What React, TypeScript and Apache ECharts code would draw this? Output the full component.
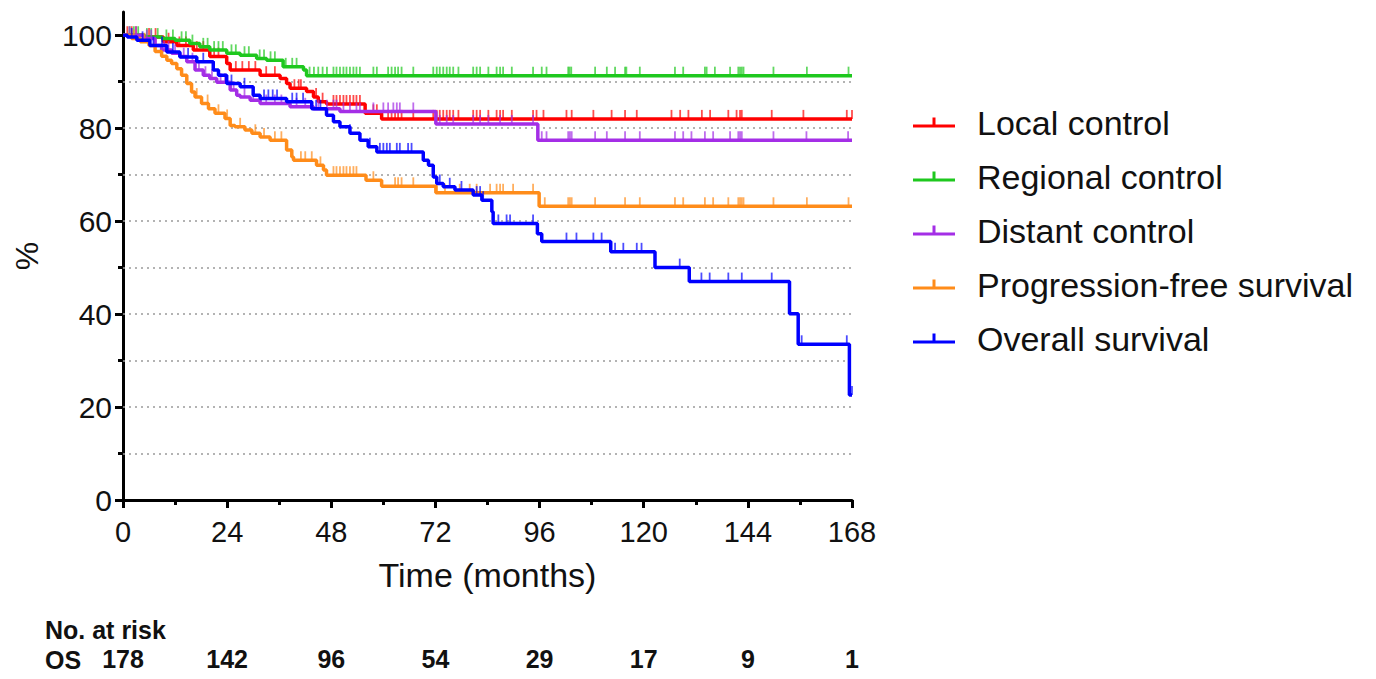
import React, { useEffect, useRef } from 'react';
import * as echarts from 'echarts';

// ---------- data ----------
const seriesNames = ['Local control', 'Regional control', 'Distant control', 'Progression-free survival', 'Overall survival'];
const seriesColors = ['#ff0000', '#1ec81e', '#a42ee6', '#ff8c1a', '#0000ff'];

// Kaplan-Meier steps: [time (months), survival %] – value holds from that time onward
const localControl: number[][] = [[0, 100], [4.7, 99.6], [9.3, 98.6], [12.4, 97.8], [16.2, 96.8], [20, 95.4], [23.9, 93.9], [24.7, 92.5], [31.6, 91.4], [36.2, 90.7], [37.7, 89.6], [38.5, 88.6], [42.3, 87.9], [43.9, 86.7], [45, 85.7], [46.9, 85.2], [55.8, 83.2], [59.6, 82.0], [168, 82.0]];
const regionalControl: number[][] = [[0, 100], [5, 99.6], [9, 99.3], [12, 98.9], [15.4, 98.2], [17.7, 97.5], [20, 96.8], [23.9, 96.1], [27, 95.7], [30.8, 95.0], [33.1, 94.6], [36.9, 93.2], [41.6, 92.5], [42.3, 91.3], [168, 91.3]];
const distantControl: number[][] = [[0, 100], [4.7, 99.3], [7.4, 97.8], [8.9, 96.8], [11.2, 96.1], [13.1, 95.4], [14.7, 94.3], [16.6, 92.5], [18.5, 91.4], [20, 90.7], [21.6, 89.9], [24.7, 88.2], [26.2, 87.1], [27, 86.7], [29.3, 86.0], [31.6, 85.3], [38.5, 84.6], [43.9, 84.2], [50, 83.6], [72.1, 80.9], [95.6, 77.4], [168, 77.4]];
const progressionFree: number[][] = [[0, 100], [2, 99.3], [4, 98.6], [6, 97.8], [7.4, 96.5], [8.9, 95.5], [10.1, 94.6], [11.2, 93.9], [12.4, 92.8], [13.5, 91.4], [14.7, 89.6], [15.8, 87.8], [16.6, 86.7], [18.1, 85.3], [19.7, 84.2], [21.2, 83.2], [23.5, 82.1], [24.7, 80.6], [25.8, 80.3], [28.1, 79.6], [29.7, 78.9], [31.6, 78.1], [33.9, 77.4], [37.7, 75.3], [38.9, 73.8], [39.3, 73.1], [44.6, 72.0], [46.2, 71.0], [46.9, 69.9], [56, 68.8], [59.6, 67.5], [72.1, 66.1], [95.9, 63.2], [168, 63.2]];
const overallSurvival: number[][] = [[0, 100], [1, 99.6], [3.2, 98.9], [6.2, 97.8], [10.1, 96.4], [13.1, 95.3], [17, 94.3], [20.8, 92.5], [22, 91.4], [23.9, 89.6], [27, 88.9], [30, 87.1], [31.6, 86.4], [37.7, 85.7], [43.5, 84.2], [46.9, 82.8], [48.5, 81.4], [50, 80.3], [52.3, 78.9], [54.6, 77.4], [56.5, 76.0], [58.5, 74.9], [69.2, 73.1], [70.4, 72.0], [71.5, 69.5], [72.3, 68.1], [73.8, 67.4], [76.5, 66.7], [80.7, 65.6], [82.7, 64.5], [85, 62.0], [85.3, 59.5], [95.5, 57.3], [96.5, 55.6], [112.4, 53.4], [122.6, 50.0], [130.5, 47.0], [153.6, 40.1], [155.6, 33.5], [167.4, 22.6], [168, 22.6]];

// censoring times (months)
const localCensor = [1, 2, 3, 6, 7.5, 10.5, 13, 14.5, 17, 18.5, 21, 22, 26, 27.5, 29, 30.5, 33, 35, 39.5, 40.5, 41, 44.5, 46, 48.5, 49.2, 50, 50.8, 51.5, 52.3, 53.1, 53.8, 54.6, 57.7, 58.5, 61.1, 61.9, 62.7, 63.4, 64.2, 66.9, 71.5, 72.3, 73, 73.8, 74.6, 75.3, 76.1, 77.3, 80.7, 81.5, 82.3, 84.2, 86.1, 86.9, 87.6, 89.6, 94.5, 95.3, 96.9, 102.2, 103.4, 108.4, 112.6, 115.7, 118.4, 126.4, 128.4, 130.3, 133.4, 135.3, 139.5, 141.4, 142.2, 142.6, 149.5, 156.8, 166.8, 168];
const regionalCensor = [1.5, 2.5, 3.5, 5.5, 6.5, 8, 10, 11.5, 13.5, 14.5, 16, 18.5, 19.5, 21, 22, 23, 25, 26, 28, 29, 31.5, 32.5, 34, 35, 37.5, 39, 40, 43, 44, 45, 46, 47, 48.5, 49.2, 50, 50.8, 51.5, 52.3, 53.1, 53.8, 54.6, 57.7, 58.5, 61.1, 61.9, 62.7, 63.4, 64.2, 66.9, 71.5, 72.3, 73, 73.8, 74.6, 75.3, 76.1, 77.3, 80.7, 81.5, 82.3, 84.2, 86.1, 86.9, 87.6, 89.6, 94.5, 96.5, 97.6, 102.6, 102.9, 103.3, 108.8, 111.5, 113.4, 115.7, 116, 119.1, 127.2, 129.1, 134.1, 134.5, 136.4, 139.9, 141.8, 142.2, 142.6, 143, 149.9, 157.6, 167.2];
const distantCensor = [1.5, 3, 5.5, 6.5, 9.5, 10.5, 12, 14, 16, 17.5, 19, 20.5, 22.5, 23.5, 25.5, 28, 30, 33, 35, 36.5, 40, 42, 45, 47, 48.5, 49.2, 50.8, 52.3, 53.8, 54.6, 57.7, 60, 61.1, 62.3, 63.1, 63.8, 66.9, 72.1, 73, 74.6, 76.1, 80.7, 82.3, 84.2, 86.9, 89.6, 94.5, 96.5, 97.6, 102.6, 103, 103.4, 108.8, 111.5, 115.7, 119.1, 127.2, 129.1, 131, 134.1, 136, 139.9, 141.8, 142.2, 142.6, 149.9, 157.5, 167.1];
const progressionCensor = [2.5, 5, 17, 19.5, 22, 24, 27, 30.5, 32.5, 35, 36.5, 41, 42, 43.5, 45.5, 48.5, 49.2, 50, 50.8, 51.5, 52.3, 53.1, 53.8, 57.7, 62.7, 63.4, 64.2, 66.9, 72.3, 74.2, 77.6, 79.9, 81.5, 84.6, 86.1, 86.9, 87.6, 89.9, 94.5, 97.2, 102.6, 103, 103.4, 108.8, 115.7, 119.1, 127.2, 129.1, 134.1, 136, 139.5, 141.8, 142.2, 142.6, 143, 149.9, 157.6, 167.2];
const overallCensor = [2, 4.5, 7, 9, 11.5, 15, 18.5, 21, 25, 28, 32.5, 33.5, 34.5, 35.5, 39, 40, 41.5, 44.5, 45.5, 52.3, 56.9, 59.2, 60, 60.8, 61.5, 63.1, 63.8, 65.7, 66.5, 73, 75.3, 78, 81.5, 82.3, 83, 86.5, 88.4, 89.2, 94.5, 102.2, 104.5, 108.4, 110.3, 113.4, 115.3, 118.4, 119.5, 128.3, 133.3, 135.2, 139.5, 142.6, 149.5, 156.4, 166.8, 168];

const yMajorTicks = [0, 20, 40, 60, 80, 100];
const yMinorTicks = [10, 30, 50, 70, 90];
const gridLineValues = [10, 20, 30, 40, 50, 60, 70, 80, 90];
const atRiskTimes = [0, 24, 48, 72, 96, 120, 144, 168];
const atRiskCounts = [178, 142, 96, 54, 29, 17, 9, 1];

const allSteps = [localControl, regionalControl, distantControl, progressionFree, overallSurvival];
const allCensors = [localCensor, regionalCensor, distantCensor, progressionCensor, overallCensor];

const FONT = "'Liberation Sans', Arial, Helvetica, sans-serif";
const NARROW = "'Liberation Sans Narrow', 'Arial Narrow', 'Liberation Sans', Arial, sans-serif";

function stepValueAt(steps: number[][], t: number): number {
  let v = steps[0][1];
  for (const [st, sv] of steps) {
    if (st <= t) v = sv;
    else break;
  }
  return v;
}

export default function App() {
  const ref = useRef<HTMLDivElement>(null);

  useEffect(() => {
    if (!ref.current) return;
    const chart = echarts.init(ref.current, null, { renderer: 'svg' });

    const lineSeries: any[] = allSteps.map((steps, i) => ({
      name: seriesNames[i],
      type: 'line',
      step: 'end',
      data: steps,
      symbol: 'none',
      z: 3 + i,
      lineStyle: { color: seriesColors[i], width: 3.5 },
      itemStyle: { color: seriesColors[i] },
      ...(i === 0
        ? {
            markLine: {
              silent: true,
              symbol: 'none',
              z: 1,
              label: { show: false },
              lineStyle: { color: '#9a9a9a', width: 1.5, type: [2, 4] },
              data: gridLineValues.map((v) => ({ yAxis: v })),
            },
          }
        : {}),
    }));

    const censorSeries: any[] = allCensors.map((times, i) => ({
      type: 'scatter',
      data: times.map((t) => [t, stepValueAt(allSteps[i], t)]),
      symbol: 'path://M0,0H1V6H0Z',
      symbolSize: [1.8, 9],
      symbolOffset: [0, '-50%'],
      z: 3 + i,
      itemStyle: { color: seriesColors[i], opacity: 0.7 },
      silent: true,
    }));

    chart.setOption({
      animation: false,
      backgroundColor: '#ffffff',
      grid: { left: 123, right: 524, top: 12, bottom: 179, containLabel: false },
      legend: {
        orient: 'vertical',
        left: 913,
        top: 105,
        padding: 0,
        itemWidth: 42,
        itemHeight: 10,
        itemGap: 19,
        icon: 'path://M0,7H42V10H0Z M19.5,0H22.5V7H19.5Z',
        textStyle: { fontSize: 34, color: '#111', fontFamily: FONT, lineHeight: 35, padding: [0, 0, 0, 17] },
        data: seriesNames,
      },
      xAxis: [
        {
          type: 'value',
          min: 0,
          max: 168,
          interval: 24,
          axisLine: { show: true, onZero: false, lineStyle: { color: '#000', width: 3 } },
          axisTick: { show: true, length: 8, lineStyle: { color: '#000', width: 3 } },
          minorTick: { show: true, splitNumber: 2, length: 5, lineStyle: { color: '#000', width: 3 } },
          axisLabel: { fontSize: 29, color: '#111', margin: 17, fontFamily: FONT, showMinLabel: true, showMaxLabel: true },
          splitLine: { show: false },
          name: 'Time (months)',
          nameLocation: 'middle',
          nameGap: 58,
          nameTextStyle: { fontSize: 34, color: '#111', fontFamily: FONT },
        },
        {
          type: 'value',
          min: 0,
          max: 168,
          interval: 24,
          position: 'bottom',
          offset: 140,
          axisLine: { show: false },
          axisTick: { show: false },
          splitLine: { show: false },
          axisLabel: {
            fontSize: 25,
            fontWeight: 'bold',
            color: '#111',
            margin: 6,
            fontFamily: NARROW,
            showMinLabel: true,
            showMaxLabel: true,
            formatter: (v: number) => {
              const k = atRiskTimes.indexOf(v);
              return k >= 0 ? String(atRiskCounts[k]) : '';
            },
          },
        },
      ],
      yAxis: [
        {
          type: 'value',
          min: 0,
          max: 105,
          axisLine: { show: true, onZero: false, lineStyle: { color: '#000', width: 3 } },
          axisTick: { show: true, length: 8, lineStyle: { color: '#000', width: 3 }, customValues: yMajorTicks },
          axisLabel: { fontSize: 30, color: '#111', margin: 11, fontFamily: FONT, customValues: yMajorTicks },
          splitLine: { show: false },
          name: '%',
          nameLocation: 'middle',
          nameGap: 80,
          nameRotate: 90,
          nameTextStyle: { fontSize: 32, color: '#111', fontFamily: FONT },
        },
        {
          type: 'value',
          min: 0,
          max: 105,
          position: 'left',
          axisLine: { show: false },
          axisTick: { show: true, length: 5, lineStyle: { color: '#000', width: 3 }, customValues: yMinorTicks },
          axisLabel: { show: false },
          splitLine: { show: false },
        },
      ],
      graphic: [
        {
          type: 'text',
          left: 45,
          top: 617,
          style: { text: 'No. at risk', fill: '#111', font: `bold 25px ${NARROW}` },
        },
        {
          type: 'text',
          left: 45,
          top: 647,
          style: { text: 'OS', fill: '#111', font: `bold 25px ${NARROW}` },
        },
      ],
      series: [...lineSeries, ...censorSeries],
    });

    return () => chart.dispose();
  }, []);

  return <div ref={ref} style={{ position: 'absolute', left: 0, top: 0, width: 1376, height: 679 }} />;
}
